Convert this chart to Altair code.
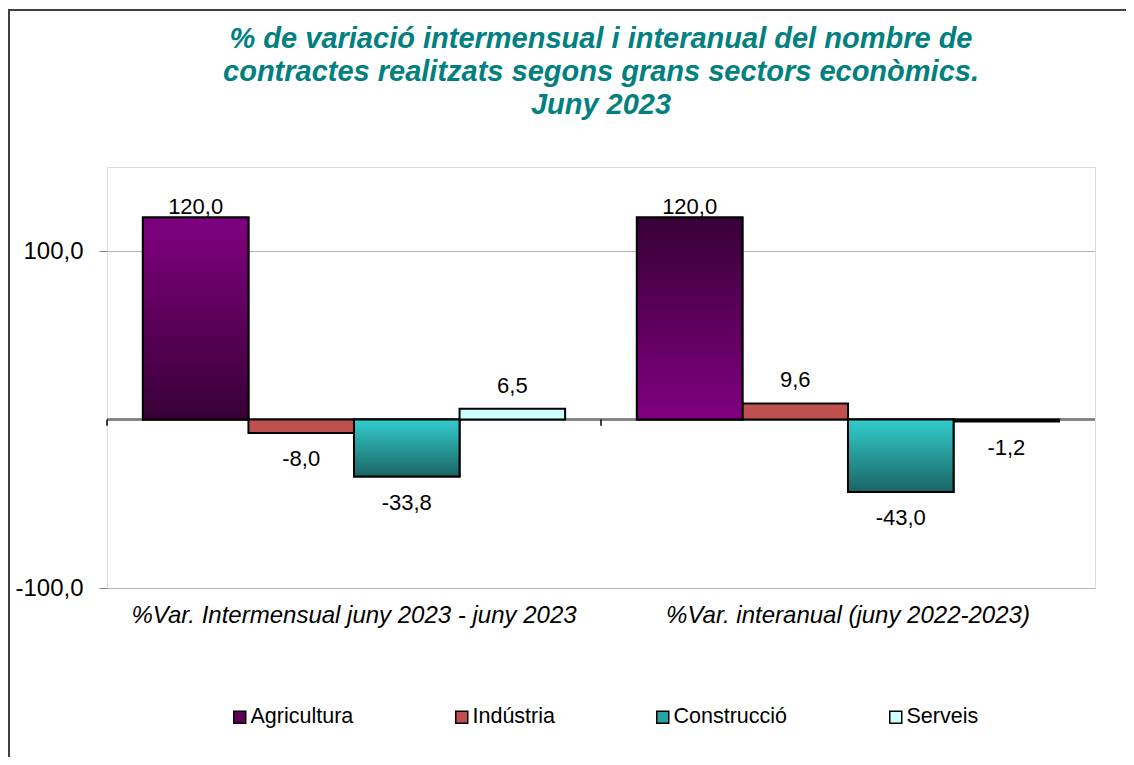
import altair as alt
import pandas as pd

# ---- data ----
groups = ["%Var. Intermensual juny 2023 - juny 2023", "%Var. interanual (juny 2022-2023)"]
sectors = ["Agricultura", "Indústria", "Construcció", "Serveis"]
intermensual = [120.0, -8.0, -33.8, 6.5]
interanual = [120.0, 9.6, -43.0, -1.2]
legend_colors = ["#5E005C", "#C0504D", "#27A3A3", "#CCFFFF"]
title_lines = ["% de variació intermensual i interanual del nombre de",
               "contractes realitzats segons grans sectors econòmics.",
               "Juny 2023"]

rows = []
for g, vals in zip(groups, [intermensual, interanual]):
    for s, v in zip(sectors, vals):
        rows.append({"g": g, "s": s, "v": v})
df = pd.DataFrame(rows)

W, H = 988, 421
FONT = "Liberation Sans"

x = alt.X("g:N", sort=groups,
          scale=alt.Scale(paddingInner=0, paddingOuter=0),
          axis=alt.Axis(title=None, labelAngle=0, ticks=False, tickSize=0, domain=False,
                        labelFontSize=24, labelFont=FONT, labelFontStyle="italic",
                        labelColor="black", labelPadding=15, labelLimit=600))
xo = alt.XOffset("s:N", sort=sectors,
                 scale=alt.Scale(domain=sectors, paddingInner=0, paddingOuter=0.34))
y = alt.Y("v:Q", scale=alt.Scale(domain=[-100, 150], nice=False, zero=False),
          axis=alt.Axis(title=None, values=[-100, 100], format=".1f",
                        tickSize=8, tickColor="#808080", tickWidth=1,
                        labelPadding=16, labelFontSize=24, labelFont=FONT,
                        labelColor="black", domain=False, grid=True,
                        gridColor="#B4B4B4", gridWidth=1))

base = alt.Chart(df)

zero_line = base.mark_rule(color="#808080", strokeWidth=1.5).encode(y=alt.datum(0))

bars = base.mark_bar(stroke="black", strokeWidth=2).encode(
    x=x, xOffset=xo, y=y,
    color=alt.Color("s:N", sort=sectors,
                    scale=alt.Scale(domain=sectors, range=legend_colors),
                    legend=alt.Legend(title=None, orient="none", legendX=122, legendY=539,
                                      direction="horizontal", columns=4, columnPadding=97,
                                      symbolType="square", symbolSize=144,
                                      symbolStrokeColor="black", symbolStrokeWidth=1.5,
                                      labelFontSize=21.5, labelFont=FONT, labelColor="black",
                                      labelOffset=0, labelLimit=300)))


def grad(top, bottom):
    return alt.Gradient(gradient="linear",
                        stops=[alt.GradientStop(color=top, offset=0),
                               alt.GradientStop(color=bottom, offset=1)],
                        x1=0, x2=0, y1=0, y2=1)


def overlay(group, sector, top, bottom):
    return base.transform_filter(
        (alt.datum.g == group) & (alt.datum.s == sector)
    ).mark_bar(fill=grad(top, bottom), stroke="black", strokeWidth=2).encode(
        x=x, xOffset=xo, y=y)


ov = [
    overlay(groups[0], "Agricultura", "#800080", "#380036"),
    overlay(groups[1], "Agricultura", "#380036", "#800080"),
    overlay(groups[0], "Construcció", "#33CCCC", "#1A6464"),
    overlay(groups[1], "Construcció", "#33CCCC", "#1A6464"),
]

lab_style = dict(font=FONT, fontSize=22, color="black")
lab_big = base.transform_filter(alt.datum.v >= 100).mark_text(
    baseline="alphabetic", dy=-4, **lab_style).encode(
    x=x, xOffset=xo, y=y, text=alt.Text("v:Q", format=".1f"))
lab_pos = base.transform_filter((alt.datum.v > 0) & (alt.datum.v < 100)).mark_text(
    baseline="alphabetic", dy=-16, **lab_style).encode(
    x=x, xOffset=xo, y=y, text=alt.Text("v:Q", format=".1f"))
lab_neg = base.transform_filter(alt.datum.v < 0).mark_text(
    baseline="top", dy=16, **lab_style).encode(
    x=x, xOffset=xo, y=y, text=alt.Text("v:Q", format=".1f"))

ticks = alt.Chart(pd.DataFrame({"g": groups})).mark_rule(color="black", strokeWidth=1.5).encode(
    x=alt.X("g:N", sort=groups, bandPosition=0), y=alt.datum(0), y2=alt.datum(-3.6))

frame = alt.Chart(pd.DataFrame({"a": [0]})).mark_rect(
    fillOpacity=0, stroke="#404040", strokeWidth=2).encode(
    x=alt.value(-98), x2=alt.value(1300), y=alt.value(-157), y2=alt.value(900))

title = alt.Chart(pd.DataFrame({"a": [0]})).mark_text(
    font=FONT, fontSize=29, fontStyle="italic", fontWeight="bold", color="#008080",
    align="center", baseline="alphabetic", lineHeight=33).encode(
    x=alt.value(W / 2), y=alt.value(-119), text=alt.value(title_lines))

chart = alt.layer(frame, zero_line, bars, *ov, ticks, lab_big, lab_pos, lab_neg, title).properties(
    width=W, height=H,
    padding={"left": 99, "top": 159, "right": 31, "bottom": 169},
    autosize=alt.AutoSizeParams(type="none"),
).configure_view(stroke="#888888", strokeWidth=2.5).configure(
    locale={"number": {"decimal": ",", "thousands": ".", "grouping": [3],
                       "currency": ["", " €"], "minus": "-"}}
)

chart.save("out.html", embed_options={"renderer": "svg", "actions": False})
